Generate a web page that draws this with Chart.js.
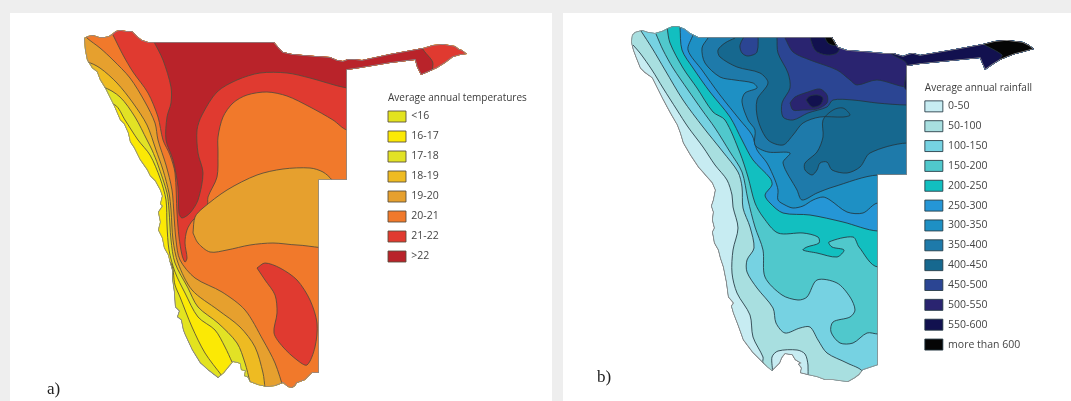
<!DOCTYPE html>
<html>
<head>
<meta charset="utf-8">
<script src="https://cdn.jsdelivr.net/npm/chart.js@4"></script>
<style>
  html, body { margin: 0; padding: 0; background: #eeeeee; width: 1071px; height: 401px; overflow: hidden; }
  canvas { position: absolute; top: 13px; background: #ffffff; filter: blur(0.4px); }
  #tempChart { left: 10px; }
  #rainChart { left: 563px; }
  .tag { position: absolute; font: 17px "Liberation Serif", serif; color: #222; }
</style>
</head>
<body>
<canvas id="tempChart" width="542" height="388"></canvas>
<canvas id="rainChart" width="508" height="388"></canvas>
<div class="tag" style="left:47px;top:379px">a)</div>
<div class="tag" style="left:597px;top:367px">b)</div>
<script>
// ---- a) temperature classes
var tempCategories = ['<16', '16-17', '17-18', '18-19', '19-20', '20-21', '21-22', '>22'];
var tempColors = ['#e3e31f', '#fbe905', '#e2e225', '#eebb22', '#e6a02e', '#f1792b', '#e03a30', '#b9232a'];

var tempOutline = [[84,38],[88,36],[93,35],[99,37],[105,37],[109,36],[112,34],[116,31],[120,30],[126,31],[132,31],[135,34],[138,37],[142,40],[148,42],[274,42],[279,48],[283,52],[292,54],[303,55],[315,56],[330,57],[337,60],[343,61],[348,59],[353,59],[362,60],[390,54],[423,48],[433,45],[443,44],[455,46],[459,49],[462,50],[467,54],[460,55],[453,57],[445,63],[437,68],[428,72],[421,75],[417,67],[415,60],[390,63],[360,68],[347,70],[347,180],[319,180],[319,373],[312,373],[308,377],[305,380],[297,383],[295,386],[292,388],[288,387],[283,383],[275,386],[267,387],[258,385],[250,382],[248,378],[247,377],[244,376],[245,371],[241,370],[240,364],[238,363],[233,362],[228,368],[224,373],[218,378],[209,371],[200,363],[192,350],[185,335],[183,330],[181,320],[177,317],[179,311],[175,307],[174,292],[172,278],[172,270],[170,263],[168,255],[164,248],[162,238],[158,230],[160,222],[158,212],[162,206],[160,204],[162,196],[160,190],[155,181],[150,176],[147,170],[140,160],[134,148],[130,142],[128,133],[124,124],[120,120],[114,106],[110,98],[105,88],[100,80],[97,72],[92,68],[87,60],[85,50],[84,38]];
var temp16 = [[222,376],[205,353],[192,327],[180,297],[175,285],[170,262],[140,250],[60,100],[60,0],[530,0],[530,401],[222,401]];
var temp17 = [[232,362],[225,347],[215,330],[198,317],[185,293],[175,272],[169,250],[167,225],[166,200],[160,178],[150,155],[138,140],[125,120],[115,105],[90,100],[60,100],[60,0],[530,0],[530,401],[232,401]];
var temp18 = [[250,382],[245,363],[237,343],[218,323],[198,307],[188,288],[175,263],[171,240],[169,210],[167,193],[158,165],[152,150],[147,140],[135,117],[120,97],[103,87],[80,85],[60,60],[60,0],[530,0],[530,401],[250,401]];
var temp19 = [[265,388],[263,373],[255,347],[240,327],[218,310],[192,290],[178,263],[173,240],[171,210],[169,193],[163,170],[156,150],[147,125],[133,103],[117,83],[100,68],[87,62],[70,62],[60,0],[530,0],[530,401],[265,401]];
var temp20 = [[284,390],[275,363],[263,340],[245,310],[222,292],[195,278],[180,260],[176,240],[174,215],[172,190],[166,165],[158,140],[155,123],[145,102],[130,78],[113,60],[100,48],[87,38],[70,20],[70,0],[530,0],[530,401],[284,401]];
var temp21 = [[113,35],[123,55],[133,72],[148,93],[158,117],[163,140],[170,155],[175,173],[177,213],[179,237],[182,255],[185,262],[187,258],[185,243],[187,230],[193,220],[207,208],[208,197],[217,177],[218,153],[218,137],[223,117],[233,103],[247,95],[267,92],[287,96],[310,107],[333,120],[347,130],[370,130],[530,60],[530,0],[110,0]];
var temp22 = [[153,40],[163,60],[171,87],[171,103],[167,117],[166,140],[173,160],[178,187],[179,213],[182,218],[190,213],[198,200],[203,173],[198,153],[197,130],[202,115],[217,92],[237,80],[260,73],[287,73],[310,78],[347,88],[370,88],[370,90],[421,90],[433,64],[422,47],[422,20],[153,20]];
var tempBands = [tempOutline, temp16, temp17, temp18, temp19, temp20, temp21, temp22];
// closed patches sitting on top of the bands
var tempLens = [[193,233],[195,217],[203,208],[227,190],[257,175],[283,169],[310,168],[323,172],[332,180],[345,200],[340,245],[297,245],[273,243],[250,245],[227,250],[210,252],[198,243],[193,233]];
var tempBlob = [[257,268],[265,263],[280,268],[297,280],[310,300],[317,323],[315,347],[307,365],[297,360],[283,347],[274,333],[277,313],[275,295],[265,280],[257,268]];
var tempPatches = [[tempLens, 4], [tempBlob, 6]];

// ---- b) rainfall classes
var rainCategories = ['0-50', '50-100', '100-150', '150-200', '200-250', '250-300', '300-350', '350-400', '400-450', '450-500', '500-550', '550-600', 'more than 600'];
var rainColors = ['#c7ecf2', '#a8dfe0', '#76d2e2', '#50c8cc', '#12bfc0', '#2596d6', '#1e90c4', '#1e7aaa', '#16688f', '#2b4593', '#2a2470', '#12114f', '#050505'];

var rainOutline = [[632,35],[635,32],[642,30],[648,32],[655,33],[662,31],[668,28],[673,26],[678,26],[685,29],[690,33],[694,35],[698,37],[832,37],[835,42],[838,47],[847,50],[860,51],[873,52],[883,53],[893,53],[903,56],[908,54],[913,53],[920,55],[950,50],[983,44],[995,41],[1007,40],[1023,42],[1029,45],[1034,49],[1023,52],[1015,54],[1007,57],[1000,60],[992,65],[985,70],[982,63],[980,58],[950,61],[920,64],[907,66],[907,175],[878,175],[878,365],[863,370],[859,375],[855,378],[848,382],[840,381],[833,380],[825,380],[817,377],[808,375],[800,373],[801,368],[798,364],[800,363],[795,360],[792,355],[785,354],[782,358],[780,363],[776,367],[772,371],[767,367],[763,363],[752,352],[743,340],[738,326],[733,313],[731,306],[733,303],[728,297],[726,282],[723,267],[720,258],[718,250],[714,243],[713,237],[712,232],[714,228],[712,220],[713,212],[711,206],[713,200],[715,190],[712,183],[705,175],[698,167],[690,155],[683,143],[680,133],[677,125],[670,113],[663,100],[658,90],[652,78],[645,73],[640,68],[636,58],[633,50],[631,42],[632,35]];
var rain50 = [[633,45],[640,53],[652,70],[663,88],[677,110],[688,127],[703,147],[715,165],[727,180],[732,195],[733,207],[738,228],[733,250],[732,273],[737,293],[750,315],[753,337],[763,357],[763,363],[772,372],[772,357],[778,351],[797,350],[805,354],[808,365],[808,378],[810,401],[1071,401],[1071,0],[600,0],[600,45]];
var rain100 = [[641,31],[652,48],[665,70],[683,100],[703,127],[723,152],[738,172],[742,187],[743,208],[750,227],[754,248],[747,260],[747,272],[757,288],[773,308],[776,323],[785,333],[800,328],[810,327],[818,340],[827,353],[847,363],[863,372],[870,401],[1071,401],[1071,0],[641,0]];
var rain150 = [[656,34],[663,50],[673,68],[688,90],[702,110],[715,128],[730,152],[742,172],[748,200],[755,227],[763,250],[765,277],[782,295],[798,300],[807,297],[817,280],[837,283],[850,297],[855,310],[850,317],[833,322],[831,332],[840,343],[853,343],[867,333],[878,334],[1071,334],[1071,0],[656,0]];
var rain200 = [[667,27],[670,43],[683,68],[697,88],[713,112],[725,120],[740,153],[748,177],[755,203],[763,217],[778,233],[803,233],[818,237],[819,243],[807,247],[803,250],[817,253],[837,257],[844,250],[832,247],[829,242],[853,237],[859,247],[878,267],[1071,267],[1071,0],[667,0]];
var rain250 = [[680,27],[682,50],[693,68],[710,92],[730,117],[742,140],[753,160],[770,178],[772,185],[765,195],[770,203],[783,213],[810,215],[843,222],[878,231],[1071,231],[1071,0],[680,0]];
var rain300 = [[693,35],[688,50],[702,70],[720,95],[740,120],[752,135],[757,150],[767,163],[775,180],[778,190],[778,200],[785,205],[793,208],[803,206],[813,200],[823,197],[830,200],[847,212],[863,213],[878,203],[1071,203],[1071,0],[693,0]];
var rain350 = [[708,38],[702,48],[705,63],[720,77],[735,80],[753,83],[757,88],[745,93],[742,102],[748,120],[755,130],[755,145],[768,152],[790,153],[783,163],[797,190],[802,200],[817,193],[833,187],[878,175],[1071,175],[1071,0],[708,0]];
var rain400 = [[735,38],[725,43],[718,50],[720,57],[737,67],[760,73],[768,83],[757,100],[758,120],[768,140],[783,145],[793,135],[803,123],[820,117],[843,117],[850,115],[843,108],[833,110],[823,120],[823,137],[817,152],[805,163],[805,170],[812,175],[817,170],[820,163],[827,162],[832,170],[847,173],[860,167],[870,153],[907,143],[1071,143],[1071,0],[735,0]];
var rain450 = [[777,38],[778,53],[788,73],[790,88],[782,103],[783,117],[793,120],[808,113],[827,107],[833,100],[853,100],[877,103],[907,105],[1071,105],[1071,0],[777,0]];
var rain500 = [[785,38],[793,52],[810,60],[837,70],[850,80],[857,85],[877,80],[907,87],[1071,87],[1071,0],[785,0]];
var rain550 = [[880,45],[893,55],[907,64],[907,90],[1071,90],[1071,0],[880,0]];
var rain600 = [[983,44],[1002,55],[1000,60],[1040,70],[1071,30],[983,30]];
var rainBands = [rainOutline, rain50, rain100, rain150, rain200, rain250, rain300, rain350, rain400, rain450, rain500, rain550, rain600];
var rainTopLobe = [[748,30],[740,45],[742,53],[748,56],[757,52],[758,30]];
var rainTopNavy = [[808,30],[815,50],[827,55],[838,52],[845,30]];
var rainTopBlack = [[822,30],[828,43],[837,45],[845,30]];
var rainLake = [[790,103],[795,97],[808,92],[820,89],[827,95],[827,103],[817,109],[803,110],[793,110],[790,103]];
var rainLakeCore = [[806,100],[810,96],[818,95],[823,98],[820,105],[812,107],[806,100]];
var rainPatches = [[rainTopLobe, 9], [rainTopNavy, 11], [rainTopBlack, 12], [rainLake, 10], [rainLakeCore, 11]];

function toPoints(poly) {
    return poly.map(function (p) { return { x: p[0], y: p[1] }; });
}

function drawMap(id, cfg) {
    var datasets = [];
    // bands go first so the legend reads in class order; later ones paint on top
    cfg.bands.forEach(function (poly, i) {
        datasets.push({
            label: cfg.categories[i],
            data: toPoints(poly),
            backgroundColor: cfg.colors[i],
            borderColor: cfg.line,
            tension: i === 0 ? 0 : 0.3
        });
    });
    cfg.patches.forEach(function (patch) {
        datasets.push({
            data: toPoints(patch[0]),
            backgroundColor: cfg.colors[patch[1]],
            borderColor: cfg.line,
            tension: 0.3
        });
    });
    // country edge last
    datasets.push({
        data: toPoints(cfg.bands[0]),
        backgroundColor: 'rgba(0,0,0,0)',
        borderColor: '#8a8a8a',
        borderWidth: 1.6,
        fill: false,
        tension: 0
    });
    datasets.forEach(function (d, i) {
        d.order = -i;
        d.showLine = true;
        d.pointRadius = 0;
        if (d.fill === undefined) d.fill = 'shape';
        if (d.borderWidth === undefined) d.borderWidth = 1;
    });

    var mapPlugin = {
        id: 'mapPlugin',
        afterLayout: function (chart) {
            // legend sits on the free space next to the map
            var lg = chart.legend;
            lg.left = cfg.legendX;
            lg.right = cfg.legendX + 190;
            lg.top = cfg.legendY;
            lg.bottom = cfg.legendY + lg.height;
            // title starts at the box edge, not at the legend edge
            var drawTitle = lg.drawTitle;
            lg.drawTitle = function () {
                this.ctx.save();
                this.ctx.translate(cfg.itemGap, 0);
                drawTitle.call(this);
                this.ctx.restore();
            };
        },
        beforeDatasetsDraw: function (chart) {
            // contours only show inside the country
            var ctx = chart.ctx, sx = chart.scales.x, sy = chart.scales.y;
            ctx.save();
            ctx.beginPath();
            cfg.bands[0].forEach(function (p, i) {
                var px = sx.getPixelForValue(p[0]), py = sy.getPixelForValue(p[1]);
                if (i === 0) ctx.moveTo(px, py); else ctx.lineTo(px, py);
            });
            ctx.closePath();
            ctx.clip();
        },
        afterDatasetsDraw: function (chart) {
            chart.ctx.restore();
        }
    };

    return new Chart(document.getElementById(id), {
        type: 'scatter',
        data: { datasets: datasets },
        plugins: [mapPlugin],
        options: {
            responsive: false,
            animation: false,
            events: [],
            layout: { padding: 0 },
            scales: {
                x: { type: 'linear', display: false, min: cfg.xMin, max: cfg.xMax },
                y: { type: 'linear', display: false, min: 13, max: 401, reverse: true }
            },
            plugins: {
                tooltip: { enabled: false },
                legend: {
                    position: 'chartArea',
                    align: 'start',
                    title: {
                        display: true,
                        text: cfg.title,
                        position: 'start',
                        color: '#3a3a3a',
                        font: { family: 'Open Sans', size: 10 },
                        padding: { top: 0, bottom: -3 }
                    },
                    labels: {
                        boxWidth: 18,
                        boxHeight: 11,
                        padding: cfg.itemGap,
                        color: '#444444',
                        font: { family: 'Open Sans', size: 10.5 },
                        sort: function (a, b) { return a.datasetIndex - b.datasetIndex; },
                        filter: function (item) { return !!item.text; }
                    }
                }
            }
        }
    });
}

drawMap('tempChart', {
    bands: tempBands, patches: tempPatches, categories: tempCategories, colors: tempColors,
    title: 'Average annual temperatures', line: 'rgba(85,75,60,0.85)',
    xMin: 10, xMax: 552, legendX: 369, legendY: 80, itemGap: 9
});
drawMap('rainChart', {
    bands: rainBands, patches: rainPatches, categories: rainCategories, colors: rainColors,
    title: 'Average annual rainfall', line: 'rgba(35,55,65,0.85)',
    xMin: 563, xMax: 1071, legendX: 353, legendY: 70, itemGap: 8.85
});
</script>
</body>
</html>
